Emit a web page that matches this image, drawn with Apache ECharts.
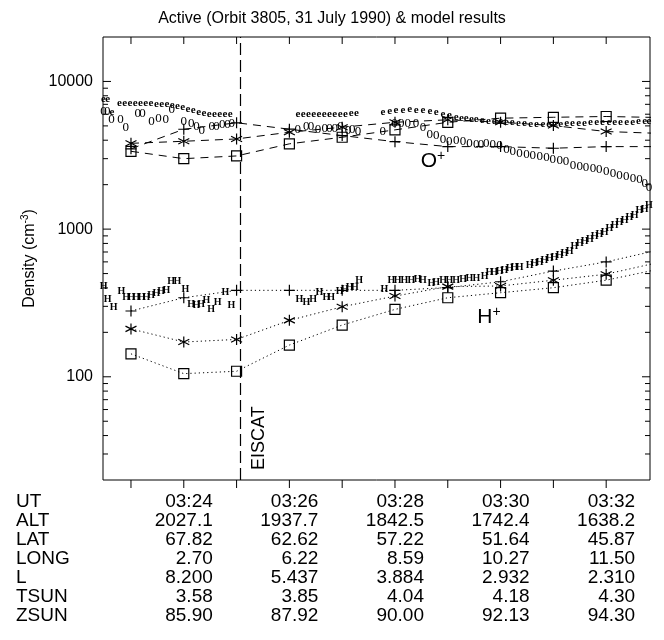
<!DOCTYPE html>
<html>
<head>
<meta charset="utf-8">
<script src="https://cdn.jsdelivr.net/npm/echarts@6/dist/echarts.min.js"></script>
<style>
  html, body { margin: 0; padding: 0; background: #fff; }
  #chart { width: 664px; height: 640px; }
</style>
</head>
<body>
<div id="chart"></div>
<script>
// Time is in minutes after 03:00 UT; densities in cm^-3.
const tMin = 22.47, tMax = 32.83;
const yMin = 20, yMax = 20000;

// Model results, one value per minute (03:23 ... 03:33)
const modelTimes = [23, 24, 25, 26, 27, 28, 29, 30, 31, 32, 33];
const oxyStar   = [3810, 3935, 4080, 4530, 4900, 5290, 5500, 5290, 5025, 4580, 4450];
const oxySquare = [3365, 3000, 3130, 3780, 4190, 4700, 5290, 5640, 5720, 5790, 5700];
const oxyPlus   = [3500, 4745, 5250, 4750, 4300, 3910, 3620, 3620, 3530, 3620, 3620];
const hydPlus   = [279, 343, 385, 385, 385, 385, 402, 440, 520, 600, 723];
const hydStar   = [211, 172, 179, 241, 298, 352, 408, 412, 451, 495, 596];
const hydSquare = [143, 105, 109, 164, 224, 286, 343, 371, 401, 451, 536];

// Measured densities, plotted as letters
const ePoints = [
  [22.48,7550],[22.56,7550],[22.64,6190],[22.78,7100],[22.88,7120],[22.98,7100],[23.08,7090],[23.18,7120],
  [23.28,7090],[23.38,7090],[23.48,7000],[23.58,6980],[23.68,6980],[23.78,6900],[23.88,6770],[23.98,6660],
  [24.08,6450],[24.18,6350],[24.28,6160],[24.38,6060],[24.48,6020],[24.58,5970],[24.68,5970],[24.78,5970],[24.88,5970],
  [26.16,6030],[26.26,6030],[26.36,6030],[26.46,6030],[26.56,6040],[26.66,6030],[26.76,6030],[26.86,6040],
  [26.96,6030],[27.06,6040],[27.17,6090],[27.27,6090],
  [27.77,6190],[27.90,6290],[28.02,6350],[28.15,6420],[28.28,6450],[28.40,6420],[28.53,6350],[28.66,6290],
  [28.78,6190],[28.91,6035],[29.03,5880],[29.16,5720],[29.26,5670],[29.35,5670],[29.45,5580],[29.54,5580],
  [29.65,5430],[29.77,5390],[29.88,5380],[30.00,5350],[30.11,5290],[30.22,5260],[30.34,5210],[30.45,5180],
  [30.57,5160],[30.68,5130],[30.80,5110],[30.91,5110],[31.02,5130],[31.14,5160],[31.25,5180],[31.36,5210],
  [31.48,5240],[31.59,5240],[31.70,5260],[31.82,5290],[31.93,5290],[32.05,5290],[32.16,5290],[32.27,5290],
  [32.39,5320],[32.50,5320],[32.61,5350],[32.73,5350],[32.81,5350]
];
const oPoints = [
  [22.48,6190],[22.55,6190],[22.63,5500],[22.80,5500],[22.90,4820],[23.13,6035],[23.22,6035],[23.39,5290],
  [23.52,5580],[23.66,5440],[23.77,6350],[24.00,5290],[24.14,5160],[24.24,4890],[24.34,4580],[24.53,4870],
  [24.62,4870],[24.73,5030],[24.83,5030],[24.91,5110],
  [26.16,4700],[26.32,4890],[26.41,4890],[26.54,4650],[26.67,4770],[26.76,4770],[26.86,4770],[26.97,4870],
  [27.11,4600],[27.19,4650],[27.30,4530],
  [27.77,4530],[27.99,5160],[28.12,5110],[28.24,5110],[28.40,5160],[28.53,4850],[28.66,4300],[28.78,4230],
  [28.91,3980],[29.03,3870],[29.16,3930],[29.29,3870],[29.41,3740],[29.54,3680],[29.63,3700],[29.73,3740],
  [29.85,3680],[29.98,3620],[30.11,3400],[30.23,3310],[30.36,3230],[30.49,3190],[30.61,3100],[30.74,3060],
  [30.87,3030],[30.99,2940],[31.12,2880],[31.24,2830],[31.37,2690],[31.50,2620],[31.62,2580],[31.75,2530],
  [31.87,2490],[32.00,2420],[32.13,2360],[32.25,2300],[32.38,2240],[32.51,2180],[32.63,2130],[32.73,2020],[32.81,1900]
];
const hPoints = [
  [22.48,412],[22.56,335],[22.67,294],[22.82,377],[22.91,343],[23.01,343],[23.10,347],[23.20,347],[23.29,343],
  [23.38,358],[23.48,368],[23.57,377],[23.67,385],[23.76,441],[23.88,441],[24.03,391],[24.14,310],[24.24,302],
  [24.33,310],[24.43,330],[24.52,286],[24.64,318],[24.79,371],[24.90,306],
  [26.19,335],[26.32,319],[26.45,335],[26.57,371],[26.70,347],[26.79,347],[26.95,378],[27.05,391],[27.14,402],
  [27.24,402],[27.32,447],
  [27.80,391],[27.93,447],[28.05,452],[28.18,447],[28.31,447],[28.43,458],[28.53,447],[28.69,428],[28.78,435],
  [28.91,447],[29.03,447],[29.16,452],[29.29,458],[29.41,464],[29.54,464],[29.70,476],[29.79,507],[29.88,512],
  [29.98,520],[30.07,527],[30.17,542],[30.26,553],[30.36,553],[30.55,568],[30.64,583],[30.74,599],[30.83,615],
  [30.93,632],[31.02,648],[31.12,665],[31.21,683],[31.31,702],[31.40,762],[31.50,803],[31.59,826],[31.69,848],
  [31.78,894],[31.87,918],[31.97,945],[32.06,1004],[32.16,1055],[32.25,1109],[32.35,1140],[32.44,1196],
  [32.54,1230],[32.63,1330],[32.73,1366],[32.81,1439]
];

const eiscatTime = 25.07;

// Axis ticks
const minuteTicks = [23, 24, 25, 26, 27, 28, 29, 30, 31, 32];
const majorDensity = [100, 1000, 10000];
const minorDensity = [30, 40, 50, 60, 70, 80, 90, 200, 300, 400, 500, 600, 700, 800, 900,
                      2000, 3000, 4000, 5000, 6000, 7000, 8000, 9000];

// Orbit table below the plot
const tableTimes = [24, 26, 28, 30, 32];
const rowNames = ['UT', 'ALT', 'LAT', 'LONG', 'L', 'TSUN', 'ZSUN'];
const utRow   = ['03:24', '03:26', '03:28', '03:30', '03:32'];
const altRow  = ['2027.1', '1937.7', '1842.5', '1742.4', '1638.2'];
const latRow  = ['67.82', '62.62', '57.22', '51.64', '45.87'];
const longRow = ['2.70', '6.22', '8.59', '10.27', '11.50'];
const lRow    = ['8.200', '5.437', '3.884', '2.932', '2.310'];
const tsunRow = ['3.58', '3.85', '4.04', '4.18', '4.30'];
const zsunRow = ['85.90', '87.92', '90.00', '92.13', '94.30'];
const tableRows = [utRow, altRow, latRow, longRow, lRow, tsunRow, zsunRow];

const FONT = '"Liberation Sans", Arial, Helvetica, sans-serif';
const tableFont = '19px ' + FONT;
const rowStep = 19;

const SYM_STAR = 'path://M5,0L5,10M0.67,2.5L9.33,7.5M0.67,7.5L9.33,2.5';
const SYM_SQUARE = 'path://M0,0L10,0L10,10L0,10Z';
const SYM_PLUS = 'path://M5,0L5,10M0,5L10,5';

function modelLine(name, vals, symbol, size, dash) {
  return {
    type: 'line', name,
    data: modelTimes.map((t, i) => [t, vals[i]]),
    symbol, symbolSize: size, showAllSymbol: true, clip: true,
    lineStyle: { color: '#000', width: 1, type: dash },
    itemStyle: { color: 'rgba(0,0,0,0)', borderColor: '#000', borderWidth: 1.2 },
    emphasis: { disabled: true }, silent: true, z: 4
  };
}

function glyphSeries(name, ch, pts, font) {
  return {
    type: 'custom', name, data: pts, clip: false, silent: true, z: 3,
    renderItem: (params, api) => {
      const p = api.coord([api.value(0), api.value(1)]);
      return { type: 'text', x: p[0], y: p[1],
        style: { text: ch, font, fill: '#000', align: 'center', verticalAlign: 'middle' } };
    }
  };
}

// tick item: [x, y, side(0 bottom, 1 top, 2 left, 3 right), major]
const tickData = [];
minuteTicks.forEach(m => { tickData.push([m, yMin, 0, 1]); tickData.push([m, yMax, 1, 1]); });
majorDensity.forEach(v => { tickData.push([tMin, v, 2, 1]); tickData.push([tMax, v, 3, 1]); });
minorDensity.forEach(v => { tickData.push([tMin, v, 2, 0]); tickData.push([tMax, v, 3, 0]); });

const chart = echarts.init(document.getElementById('chart'), null, { renderer: 'canvas' });

chart.setOption({
  animation: false,
  backgroundColor: '#fff',
  title: {
    text: 'Active (Orbit 3805, 31 July 1990) & model results',
    left: 'center', top: 6,
    textStyle: { fontFamily: FONT, fontSize: 16, fontWeight: 'normal', color: '#000' }
  },
  grid: { left: 103, right: 14, top: 37, bottom: 160, show: true,
          borderColor: '#000', borderWidth: 1, backgroundColor: 'transparent' },
  xAxis: {
    type: 'value', min: tMin, max: tMax,
    axisLine: { show: false }, axisTick: { show: false },
    axisLabel: { show: false }, splitLine: { show: false }
  },
  yAxis: {
    type: 'log', logBase: 10, min: yMin, max: yMax,
    axisLine: { show: false }, axisTick: { show: false },
    minorTick: { show: false }, splitLine: { show: false },
    axisLabel: {
      color: '#000', fontFamily: FONT, fontSize: 16, margin: 10,
      formatter: v => { const r = Math.round(v); return majorDensity.includes(r) ? String(r) : ''; }
    },
    name: 'Density (cm{sup|-3})',
    nameLocation: 'middle', nameRotate: 90, nameGap: 64,
    nameTextStyle: {
      color: '#000', fontFamily: FONT, fontSize: 16,
      rich: { sup: { fontFamily: FONT, fontSize: 10, color: '#000', verticalAlign: 'top', padding: [0, 0, 8, 0] } }
    }
  },
  series: [
    glyphSeries('O+ (e)', 'e', ePoints, 'bold 11px "Liberation Serif", serif'),
    glyphSeries('O+ (0)', '0', oPoints, '11px "DejaVu Serif", serif'),
    glyphSeries('H+', 'H', hPoints, 'bold 10px "Liberation Serif", serif'),
    Object.assign(modelLine('O+ model A', oxyStar, SYM_STAR, 11, [8, 6]), {
      markLine: {
        silent: true, symbol: ['none', 'none'], animation: false,
        lineStyle: { color: '#000', width: 1.2, type: [12, 5] },
        label: { show: true, formatter: 'EISCAT', position: 'insideStartBottom', distance: 10,
                 color: '#000', fontFamily: FONT, fontSize: 18 },
        data: [{ xAxis: eiscatTime }]
      }
    }),
    modelLine('O+ model B', oxySquare, SYM_SQUARE, 10, [8, 6]),
    modelLine('O+ model C', oxyPlus, SYM_PLUS, 11, [8, 6]),
    modelLine('H+ model A', hydStar, SYM_STAR, 11, [1.2, 3]),
    modelLine('H+ model B', hydSquare, SYM_SQUARE, 10, [1.2, 3]),
    modelLine('H+ model C', hydPlus, SYM_PLUS, 11, [1.2, 3]),
    {
      type: 'custom', name: 'ticks', data: tickData, clip: false, silent: true, z: 5,
      renderItem: (params, api) => {
        const p = api.coord([api.value(0), api.value(1)]);
        const side = api.value(2), major = api.value(3);
        let x2 = p[0], y2 = p[1];
        if (side === 0) y2 = p[1] + 8;
        else if (side === 1) y2 = p[1] + 7;
        else if (side === 2) x2 = p[0] + (major ? 8 : 5);
        else x2 = p[0] - (major ? 8 : 5);
        return { type: 'line', shape: { x1: p[0], y1: p[1], x2, y2 },
                 style: { stroke: '#000', lineWidth: 1 } };
      }
    },
    {
      type: 'custom', name: 'orbit table', data: tableTimes.map((t, i) => [t, yMin, i]),
      clip: false, silent: true,
      renderItem: (params, api) => {
        const i = api.value(2);
        const p = api.coord([api.value(0), yMin]);
        return {
          type: 'group',
          children: tableRows.map((row, r) => ({
            type: 'text', x: p[0] + 29, y: p[1] + 22 + r * rowStep,
            style: { text: row[i], font: tableFont, fill: '#000', align: 'right', verticalAlign: 'middle' }
          }))
        };
      }
    }
  ]
});

// Row names and ion labels
const bottomY = chart.convertToPixel({ gridIndex: 0 }, [tMin, yMin])[1];
const oLabel = chart.convertToPixel({ gridIndex: 0 }, [28.72, 2900]);
const hLabel = chart.convertToPixel({ gridIndex: 0 }, [29.78, 254]);
const ionRich = {
  b: { fontFamily: FONT, fontSize: 21, color: '#000' },
  s: { fontFamily: FONT, fontSize: 14, color: '#000', verticalAlign: 'top', padding: [0, 0, 10, 0] }
};
chart.setOption({
  graphic: rowNames.map((n, r) => ({
    type: 'text', x: 16, y: bottomY + 22 + r * rowStep, silent: true,
    style: { text: n, font: tableFont, fill: '#000', verticalAlign: 'middle' }
  })).concat([
    { type: 'text', x: oLabel[0], y: oLabel[1], silent: true,
      style: { text: '{b|O}{s|+}', rich: ionRich, align: 'center', verticalAlign: 'middle' } },
    { type: 'text', x: hLabel[0], y: hLabel[1], silent: true,
      style: { text: '{b|H}{s|+}', rich: ionRich, align: 'center', verticalAlign: 'middle' } }
  ])
});
</script>
</body>
</html>
